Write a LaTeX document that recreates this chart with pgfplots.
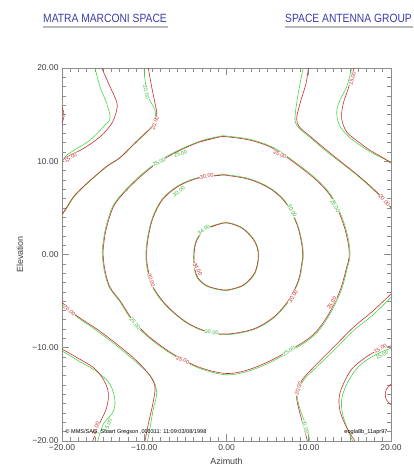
\documentclass[border=0pt]{standalone}
\usepackage{pgfplots}
\pgfplotsset{compat=1.18}
\usepackage{fontspec}
\setmainfont{Liberation Sans}
\definecolor{cred}{RGB}{200,45,45}
\definecolor{cgreen}{RGB}{70,215,70}
\definecolor{ttl}{RGB}{60,60,170}
\definecolor{axgray}{RGB}{140,140,140}
\tikzset{
  rl/.style={text=cred, fill=white, inner sep=0.2pt, font=\fontsize{5.5}{6}\selectfont},
  gl/.style={text=cgreen!85!black, fill=white, inner sep=0.2pt, font=\fontsize{5.5}{6}\selectfont},
}
\begin{document}
\begin{tikzpicture}
\path[use as bounding box] (0,0) rectangle (414bp,466bp);
\node[anchor=west, text=ttl, inner sep=0] at (43bp,448bp) {\scalebox{0.86}[1]{\fontsize{12}{14}\selectfont MATRA MARCONI SPACE}};
\fill[gray!55] (43bp,438bp) rectangle (168bp,440bp);
\node[anchor=west, text=ttl, inner sep=0] at (285bp,448bp) {\scalebox{0.86}[1]{\fontsize{12}{14}\selectfont SPACE ANTENNA GROUP}};
\fill[gray!55] (285bp,438bp) rectangle (413bp,440bp);
\begin{axis}[
  at={(62bp,25bp)}, anchor=south west,
  width=329bp, height=373bp, scale only axis,
  xmin=-20, xmax=20, ymin=-20, ymax=20,
  xtick={-20,-10,0,10,20}, ytick={-20,-10,0,10,20},
  xticklabels={−20.00,−10.00,0.00,10.00,20.00},
  yticklabels={−20.00,−10.00,0.00,10.00,20.00},
  minor tick num=9,
  tick align=inside,
  major tick length=7bp, minor tick length=4bp,
  axis line style={draw=axgray, line width=0.9pt},
  every tick/.style={draw=axgray, line width=0.6pt},
  tick label style={text=black!75, font=\fontsize{8.5}{10}\selectfont},
  xlabel={Azimuth}, ylabel={Elevation},
  x label style={at={(axis description cs:0.5,-0.054)}, anchor=center, font=\fontsize{9}{10}\selectfont, text=black!75},
  y label style={at={(axis description cs:-0.128,0.5)}, anchor=center, font=\fontsize{9}{10}\selectfont, text=black!75},
  every axis plot/.append style={line width=0.6pt, smooth, tension=0.55},
]
% ---------- green set (drawn first) ----------
\addplot[cgreen] coordinates {(-3.25,12.15)(-0.79,12.68)(0.02,12.7)(2.88,12.34)(5.75,11.44)(9.02,9.45)(11.47,7.64)(13.1,5.82)(14.32,3.3)(14.92,1.12)(15.0,-0.3)(14.7,-1.4)(13.9,-3.95)(12.27,-6.84)(10.22,-9.0)(6.12,-11.2)(2.86,-12.45)(0.02,-12.9)(-3.24,-12.22)(-6.52,-10.76)(-9.38,-8.96)(-11.42,-7.15)(-13.03,-4.98)(-14.25,-3.54)(-14.86,-1.74)(-15.1,0.0)(-15.0,1.3)(-14.66,2.96)(-13.86,5.12)(-12.64,6.58)(-10.6,8.37)(-8.55,9.82)(-6.09,11.07)(-3.25,12.15)(-0.79,12.68)};
\addplot[cgreen] coordinates {(-3.24,8.3)(-0.79,8.55)(0.02,8.56)(2.88,8.1)(5.33,7.12)(7.17,5.67)(8.6,3.3)(9.22,1.13)(9.34,-0.3)(9.22,-1.02)(8.8,-2.83)(7.57,-5.0)(5.73,-6.8)(3.27,-8.06)(0.02,-8.6)(-2.43,-8.3)(-4.88,-7.33)(-7.33,-5.52)(-8.98,-3.54)(-9.6,-1.74)(-9.8,-0.1)(-9.59,1.88)(-8.97,4.04)(-7.74,6.04)(-5.69,7.48)(-3.24,8.3)(-0.79,8.55)};
\addplot[cgreen] coordinates {(-2.45,2.8)(-0.35,3.42)(1.12,3.2)(2.3,2.62)(3.52,1.35)(3.93,-0.11)(3.52,-1.93)(2.29,-3.2)(1.0,-3.68)(-0.35,-3.86)(-2.45,-3.38)(-3.68,-2.29)(-4.01,-0.29)(-3.68,1.53)(-2.45,2.8)(-0.35,3.42)};
\addplot[cgreen] coordinates {(-15.99,20)(-15.38,17.99)(-14.57,16.2)(-14.16,14.59)(-14.98,13.69)(-16.6,12.26)(-18.21,11.36)(-19.43,10.64)(-20,9.93)};
\addplot[cgreen] coordinates {(-20,4.2)(-19.4,5.0)(-18.6,6.1)(-17.5,7.15)(-16.0,8.35)(-14.5,9.45)(-12.95,10.35)(-11.3,11.75)(-9.8,13.0)(-9.0,13.8)(-8.69,14.59)(-8.69,15.48)(-9.51,16.91)(-9.91,18.71)(-10.03,20)};
\addplot[cgreen] coordinates {(9.34,20)(8.94,18.35)(8.53,16.2)(8.33,14.41)(8.85,13.51)(10.1,12.6)(12.1,11.1)(14.15,9.7)(16.2,8.25)(18.2,6.65)(20,5.0)};
\addplot[cgreen] coordinates {(15.22,20)(14.61,17.99)(13.8,16.56)(13.4,15.3)(13.72,13.87)(14.81,12.69)(16.23,11.72)(17.85,10.82)(20,9.93)};
\addplot[cgreen] coordinates {(-20,-5.3)(-18.21,-6.67)(-15.78,-8.17)(-13.35,-9.79)(-10.92,-11.58)(-9.1,-13.19)(-8.49,-14.81)(-8.9,-16.59)(-9.3,-18.57)(-9.59,-20)};
\addplot[cgreen] coordinates {(-20,-10.32)(-18.21,-11.29)(-15.78,-12.55)(-14.16,-13.91)(-13.56,-15.7)(-13.84,-16.95)(-14.98,-18.2)(-15.66,-20)};
\addplot[cgreen] coordinates {(20,-4.59)(17.85,-6.45)(15.42,-8.17)(12.99,-10.32)(10.55,-12.4)(9.26,-13.62)(8.65,-15.16)(8.94,-16.59)(9.67,-18.39)(10.15,-20)};
\addplot[cgreen] coordinates {(20,-10.04)(18.26,-10.68)(16.63,-11.58)(15.62,-12.48)(14.61,-13.91)(14.0,-15.52)(14.12,-17.13)(14.73,-18.75)(15.34,-20)};
% ---------- red set (on top) ----------
\addplot[cred] coordinates {(-3.22,12.08)(-0.79,12.61)(0.02,12.62)(2.86,12.26)(5.69,11.36)(8.94,9.39)(11.37,7.6)(12.99,5.81)(14.2,3.3)(14.81,1.15)(14.9,-0.3)(14.61,-1.36)(13.8,-3.87)(12.18,-6.74)(10.15,-8.89)(6.1,-11.04)(2.86,-12.3)(0.02,-12.76)(-3.22,-12.12)(-6.47,-10.68)(-9.3,-8.89)(-11.33,-7.1)(-12.95,-4.95)(-14.16,-3.51)(-14.77,-1.72)(-15.0,0.0)(-14.9,1.3)(-14.57,2.94)(-13.76,5.09)(-12.55,6.53)(-10.52,8.31)(-8.49,9.75)(-6.05,11.0)(-3.22,12.08)(-0.79,12.61)};
\addplot[cred] coordinates {(-3.22,8.24)(-0.79,8.49)(0.02,8.49)(2.86,8.03)(5.29,7.06)(7.11,5.63)(8.53,3.3)(9.14,1.15)(9.26,-0.3)(9.14,-1.0)(8.73,-2.8)(7.51,-4.95)(5.69,-6.74)(3.26,-7.99)(0.02,-8.53)(-2.41,-8.24)(-4.84,-7.28)(-7.27,-5.48)(-8.9,-3.51)(-9.51,-1.72)(-9.72,-0.1)(-9.51,1.86)(-8.9,4.01)(-7.68,5.99)(-5.65,7.42)(-3.22,8.24)(-0.79,8.49)};
\addplot[cred] coordinates {(-2.41,2.76)(-0.35,3.37)(1.1,3.15)(2.25,2.58)(3.46,1.33)(3.87,-0.11)(3.46,-1.9)(2.25,-3.15)(1.0,-3.62)(-0.35,-3.8)(-2.41,-3.33)(-3.62,-2.26)(-3.95,-0.29)(-3.62,1.51)(-2.41,2.76)(-0.35,3.37)};
\addplot[cred] coordinates {(-15.17,20)(-14.16,17.99)(-13.35,16.38)(-13.35,15.48)(-13.96,14.05)(-15.38,12.62)(-17.41,11.36)(-19.03,10.64)(-20,10.1)};
\addplot[cred] coordinates {(-20,4.3)(-19.4,5.1)(-18.6,6.2)(-17.5,7.2)(-16.0,8.4)(-14.5,9.5)(-12.95,10.4)(-11.33,11.8)(-9.9,13.0)(-9.1,13.69)(-8.49,14.95)(-8.69,16.2)(-9.1,17.99)(-9.51,20)};
\addplot[cred] coordinates {(9.95,20)(9.67,18.35)(8.94,16.2)(8.53,14.59)(8.85,13.69)(10.15,12.69)(12.18,11.18)(14.2,9.75)(16.23,8.31)(18.26,6.7)(20,5.05)};
\addplot[cred] coordinates {(15.5,20)(14.81,17.82)(14.2,16.2)(14.0,14.59)(14.61,13.15)(16.03,12.08)(17.45,11.18)(18.87,10.46)(20,9.8)};
\addplot[cred] coordinates {(-20,-5.13)(-18.21,-6.56)(-15.78,-7.99)(-13.35,-9.6)(-10.92,-11.4)(-9.3,-13.01)(-8.69,-14.27)(-8.97,-16.06)(-9.51,-18.2)(-9.91,-20)};
\addplot[cred] coordinates {(-20,-10.14)(-18.21,-11.04)(-16.19,-12.12)(-14.98,-13.37)(-14.37,-14.81)(-14.57,-16.42)(-15.38,-18.03)(-16.27,-20)};
\addplot[cred] coordinates {(20,-4.23)(17.85,-6.02)(15.42,-7.82)(12.99,-9.97)(10.55,-12.12)(9.14,-13.55)(8.53,-15.16)(8.85,-16.77)(9.42,-18.57)(9.83,-20)};
\addplot[cred] coordinates {(20,-9.79)(18.26,-10.32)(16.63,-11.22)(15.22,-12.3)(14.29,-13.73)(13.72,-15.16)(13.8,-16.77)(14.61,-18.57)(15.62,-20)};
\addplot[cred] coordinates {(-20,15.8)(-19.8,15.3)(-19.75,14.8)(-20,14.1)};
\addplot[cred] coordinates {(20,-13.9)(19.4,-14.5)(19.3,-15.0)(19.45,-15.6)(20,-16.1)};
% ---------- contour labels ----------
\node[rl, rotate=30] at (axis cs:-18.97,10.38) {15.00};
\node[gl, rotate=-78] at (axis cs:-9.75,17.4) {20.00};
\node[rl, rotate=70] at (axis cs:-8.7,14.1) {20.00};
\node[gl, rotate=27] at (axis cs:-8.2,9.9) {25.00};
\node[gl, rotate=18] at (axis cs:-5.6,10.8) {25.00};
\node[rl, rotate=10] at (axis cs:-2.4,8.4) {30.00};
\node[gl, rotate=35] at (axis cs:-5.8,6.75) {30.00};
\node[gl, rotate=35] at (axis cs:-2.75,2.65) {34.00};
\node[rl, rotate=-62] at (axis cs:-3.5,-1.6) {34.00};
\node[rl, rotate=-25] at (axis cs:6.5,10.75) {25.00};
\node[gl, rotate=-60] at (axis cs:13.2,5.2) {25.00};
\node[gl, rotate=-62] at (axis cs:8.0,4.7) {30.00};
\node[rl, rotate=75] at (axis cs:15.3,18.9) {15.00};
\node[rl, rotate=-48] at (axis cs:19.2,5.8) {20.00};
\node[rl, rotate=-40] at (axis cs:-19.1,-6.0) {20.00};
\node[gl, rotate=-52] at (axis cs:-11.1,-7.4) {25.00};
\node[rl, rotate=-22] at (axis cs:-5.3,-11.3) {25.00};
\node[rl, rotate=-72] at (axis cs:-9.15,-2.8) {30.00};
\node[gl, rotate=-5] at (axis cs:-1.8,-8.35) {30.00};
\node[rl, rotate=70] at (axis cs:-15.9,-18.7) {15.00};
\node[gl, rotate=70] at (axis cs:-14.4,-18.3) {15.00};
\node[rl, rotate=60] at (axis cs:8.1,-4.5) {30.00};
\node[rl, rotate=60] at (axis cs:12.8,-5.2) {25.00};
\node[gl, rotate=35] at (axis cs:7.6,-10.35) {25.00};
\node[rl, rotate=72] at (axis cs:8.75,-14.4) {20.00};
\node[gl, rotate=-72] at (axis cs:9.6,-18.5) {20.00};
\node[rl, rotate=28] at (axis cs:18.7,-10.1) {15.00};
\node[gl, rotate=28] at (axis cs:18.9,-10.75) {15.00};
% ---------- footer texts ----------
\node[anchor=west, inner sep=0, font=\fontsize{5.6}{6}\selectfont] at (axis cs:-19.6,-19.05) {© MMS/SAG, Stuart Gregson ,000311: 11:09:03/08/1998};
\node[anchor=east, inner sep=0, font=\fontsize{5.6}{6}\selectfont] at (axis cs:19.6,-19.05) {eogla8b\_11apr97};
\end{axis}
\end{tikzpicture}
\end{document}
